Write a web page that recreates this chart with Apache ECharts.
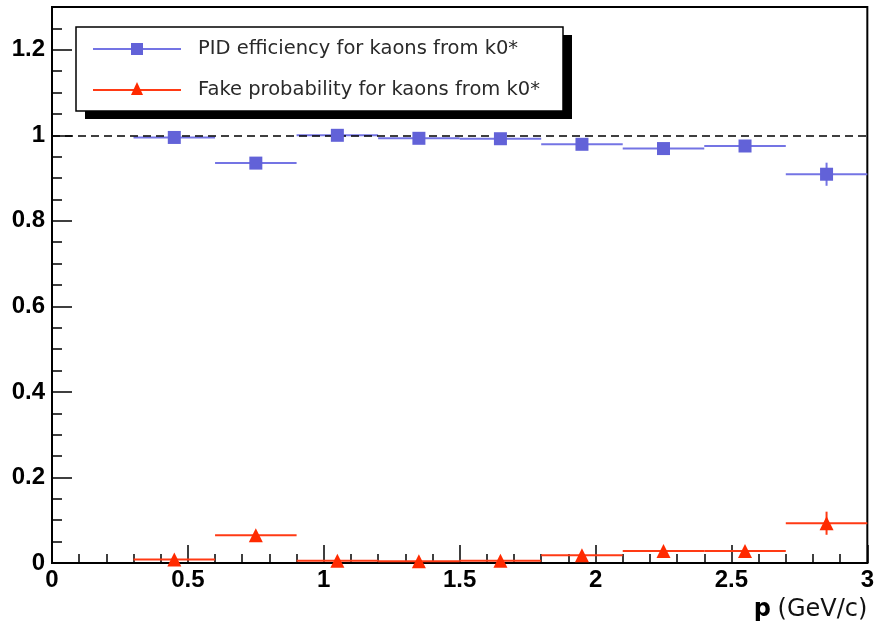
<!DOCTYPE html>
<html>
<head>
<meta charset="utf-8">
<script src="https://cdn.jsdelivr.net/npm/echarts@6/dist/echarts.min.js"></script>
<style>
  html, body { margin: 0; padding: 0; background: #fff; }
  #chart { width: 877px; height: 628px; }
</style>
</head>
<body>
<div id="chart"></div>
<script>
// Momentum bins (bin centres and half widths, GeV/c)
const pCenters = [0.45, 0.75, 1.05, 1.35, 1.65, 1.95, 2.25, 2.55, 2.85];
const pHalfWidth = [0.15, 0.15, 0.15, 0.15, 0.15, 0.15, 0.15, 0.15, 0.15];

// PID efficiency for kaons from K0*
const effValues = [0.995, 0.935, 1.0, 0.993, 0.992, 0.979, 0.969, 0.975, 0.909];
const effErrors = [0.005, 0.008, 0.003, 0.004, 0.004, 0.006, 0.007, 0.007, 0.027];

// Fake probability for kaons from K0*
const fakeValues = [0.008, 0.065, 0.005, 0.004, 0.005, 0.018, 0.028, 0.028, 0.093];
const fakeErrors = [0.004, 0.008, 0.003, 0.003, 0.003, 0.006, 0.007, 0.007, 0.027];

const legendLabels = ['PID efficiency for kaons from k0*', 'Fake probability for kaons from k0*'];

const BLUE = '#6262d8';
const BLUE_LINE = '#7474e4';
const RED = '#ff2a00';
const RED_LINE = '#ff3a14';
const WIDE_FONT = '"DejaVu Sans", "Liberation Sans", Arial, sans-serif';
const AXIS_FONT = '"Liberation Sans", Arial, sans-serif';

function points(vals, errs) {
  return pCenters.map((p, i) => [p, vals[i], pHalfWidth[i], errs[i]]);
}

function errorBars(color) {
  return function (params, api) {
    const x = api.value(0), y = api.value(1), ex = api.value(2), ey = api.value(3);
    const left = api.coord([x - ex, y]);
    const right = api.coord([x + ex, y]);
    const low = api.coord([x, y - ey]);
    const high = api.coord([x, y + ey]);
    const style = { stroke: color, lineWidth: 2 };
    return {
      type: 'group',
      children: [
        { type: 'line', shape: { x1: left[0], y1: left[1], x2: right[0], y2: right[1] }, style },
        { type: 'line', shape: { x1: low[0], y1: low[1], x2: high[0], y2: high[1] }, style }
      ]
    };
  };
}

const chart = echarts.init(document.getElementById('chart'), null, { renderer: 'canvas' });

const labelFont = { fontFamily: AXIS_FONT, fontWeight: 'bold', fontSize: 24, color: '#000' };

// Legend box drawn as graphic elements
const LX = 76, LY = 27, LW = 487, LH = 84;
const rows = [49, 90];
const legendGraphic = [
  { type: 'rect', shape: { x: LX + 9, y: LY + 8, width: LW, height: LH }, style: { fill: '#000' }, z: 100 },
  { type: 'rect', shape: { x: LX, y: LY, width: LW, height: LH }, style: { fill: '#fff', stroke: '#000', lineWidth: 1.5 }, z: 101 },
  { type: 'line', shape: { x1: 93, y1: rows[0], x2: 181, y2: rows[0] }, style: { stroke: BLUE_LINE, lineWidth: 2 }, z: 102 },
  { type: 'rect', shape: { x: 131, y: rows[0] - 6, width: 12, height: 12 }, style: { fill: BLUE }, z: 103 },
  { type: 'line', shape: { x1: 93, y1: rows[1], x2: 181, y2: rows[1] }, style: { stroke: RED_LINE, lineWidth: 2 }, z: 102 },
  { type: 'polygon', shape: { points: [[137, rows[1] - 8], [131, rows[1] + 5], [143, rows[1] + 5]] }, style: { fill: RED }, z: 103 },
  { type: 'text', x: 198, y: rows[0], style: { text: legendLabels[0], font: '19.5px ' + WIDE_FONT, fill: '#2a2a2a', verticalAlign: 'middle' }, z: 103 },
  { type: 'text', x: 198, y: rows[1], style: { text: legendLabels[1], font: '19.5px ' + WIDE_FONT, fill: '#2a2a2a', verticalAlign: 'middle' }, z: 103 }
];

chart.setOption({
  animation: false,
  backgroundColor: '#fff',
  grid: { left: 52, right: 9, top: 7, bottom: 65, show: true, borderColor: '#000', borderWidth: 2, backgroundColor: 'transparent' },
  xAxis: {
    type: 'value',
    min: 0, max: 3, interval: 0.5,
    name: '{b|p}  {n|(GeV/c)}',
    nameLocation: 'end',
    nameGap: 0,
    nameTextStyle: {
      align: 'right', verticalAlign: 'top', padding: [35, 0, 0, 0],
      rich: {
        b: { fontFamily: WIDE_FONT, fontWeight: 'bold', fontSize: 24, color: '#000' },
        n: { fontFamily: WIDE_FONT, fontSize: 24, color: '#111' }
      }
    },
    axisLine: { show: true, onZero: false, lineStyle: { color: '#000', width: 2 } },
    axisTick: { show: true, inside: true, length: 18, lineStyle: { color: '#000', width: 1.5 } },
    minorTick: { show: true, splitNumber: 5, length: 9, lineStyle: { color: '#000', width: 1.5 } },
    splitLine: { show: false },
    axisLabel: Object.assign({ margin: 5, formatter: v => String(v) }, labelFont)
  },
  yAxis: {
    type: 'value',
    min: 0, max: 1.3, interval: 0.2,
    axisLine: { show: true, onZero: false, lineStyle: { color: '#000', width: 2 } },
    axisTick: { show: true, inside: true, length: 20, lineStyle: { color: '#000', width: 1.5 } },
    minorTick: { show: true, splitNumber: 4, length: 10, lineStyle: { color: '#000', width: 1.5 } },
    splitLine: { show: false },
    axisLabel: Object.assign({ margin: 7, showMaxLabel: false, formatter: v => String(Math.round(v * 10) / 10) }, labelFont)
  },
  graphic: legendGraphic,
  series: [
    {
      name: 'effErr', type: 'custom', renderItem: errorBars(BLUE_LINE),
      data: points(effValues, effErrors), z: 3,
      markLine: {
        silent: true, symbol: 'none', label: { show: false },
        lineStyle: { color: '#000', width: 1.5, type: [8, 5] },
        data: [{ yAxis: 1 }]
      }
    },
    {
      name: 'fakeErr', type: 'custom', renderItem: errorBars(RED_LINE),
      data: points(fakeValues, fakeErrors), z: 3
    },
    {
      name: legendLabels[0], type: 'scatter', symbol: 'rect', symbolSize: 13,
      itemStyle: { color: BLUE, opacity: 1 },
      data: pCenters.map((p, i) => [p, effValues[i]]), z: 5
    },
    {
      name: legendLabels[1], type: 'scatter', symbol: 'triangle', symbolSize: 14,
      itemStyle: { color: RED, opacity: 1 },
      data: pCenters.map((p, i) => [p, fakeValues[i]]), z: 5
    }
  ]
});
</script>
</body>
</html>
